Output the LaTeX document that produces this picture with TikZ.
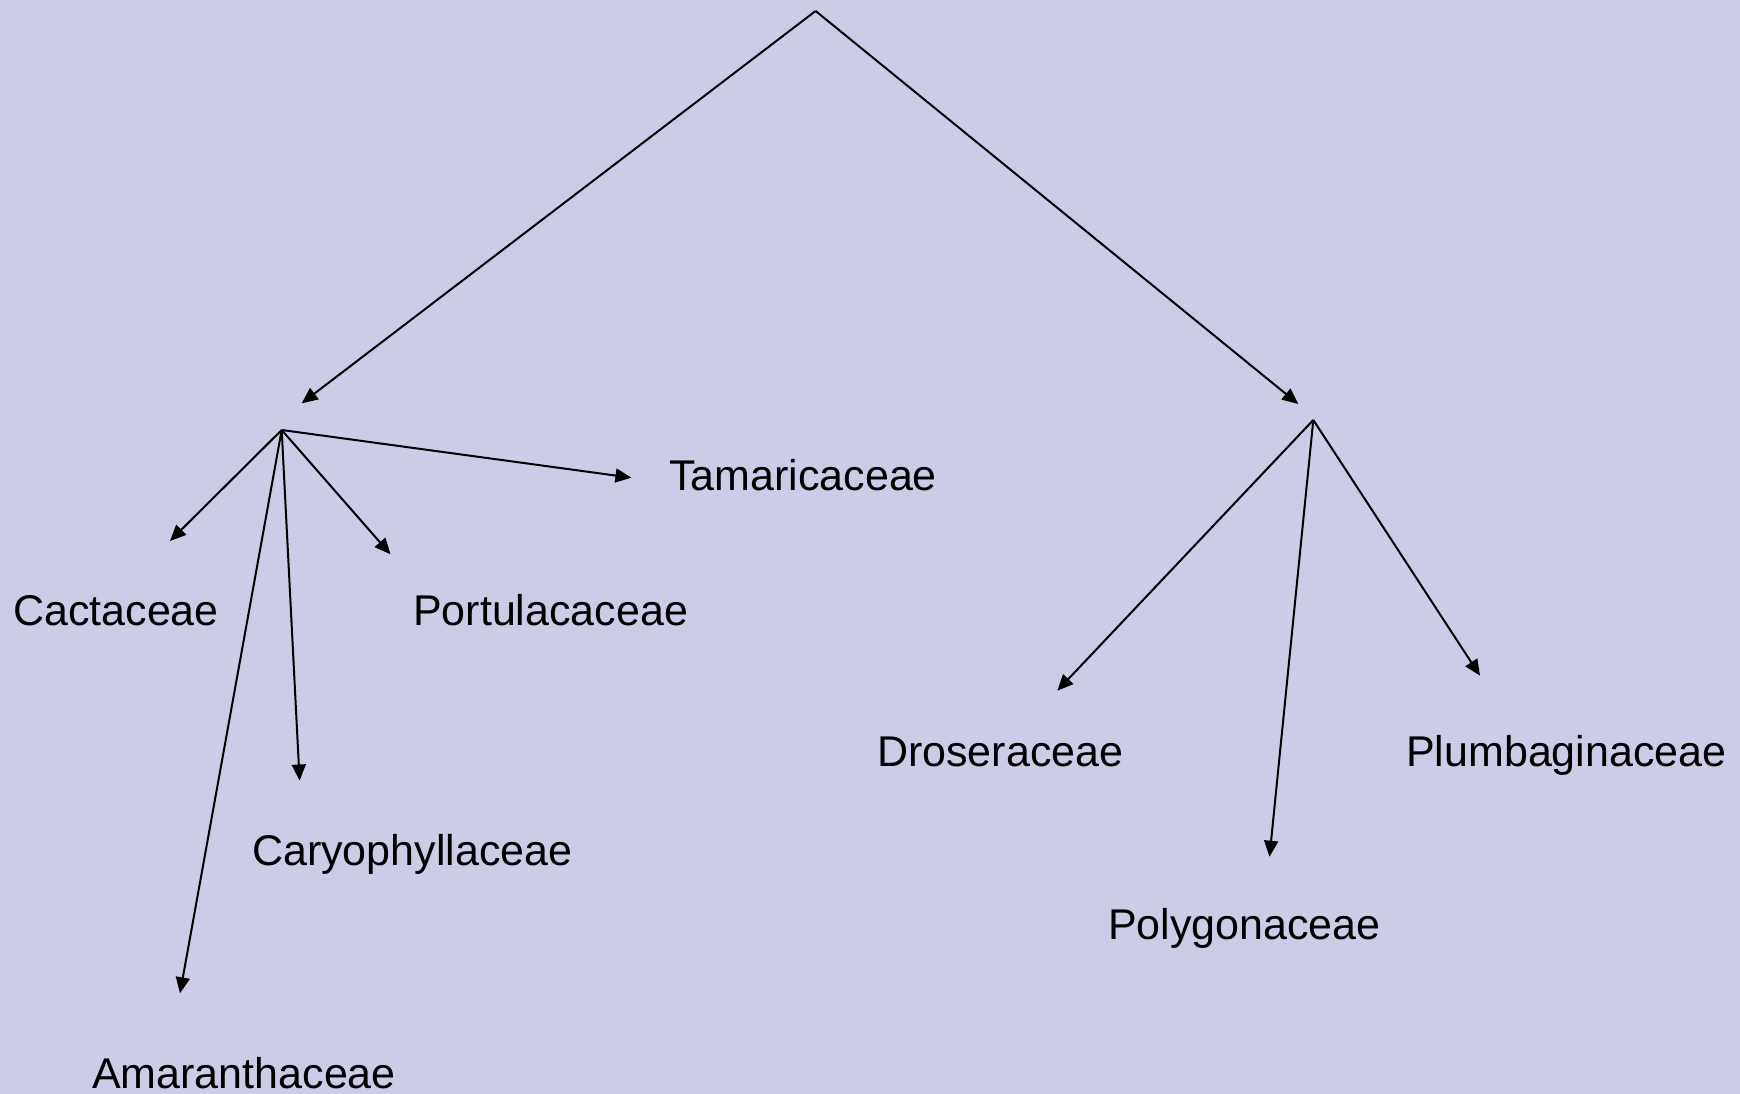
\documentclass[tikz,border=0pt]{standalone}
\usepackage{fontspec}
\setmainfont{Liberation Sans}
\usetikzlibrary{arrows.meta}
\definecolor{bgcol}{RGB}{204,204,230}
\begin{document}
\begin{tikzpicture}[x=1pt,y=-1pt,
  label/.style={anchor=base west,inner sep=0pt,font=\fontsize{43}{50}\selectfont},
  conn/.style={line width=2pt,-{Triangle[length=16pt,width=14pt]}}]
\fill[bgcol] (0,0) rectangle (1740,1094);
\useasboundingbox (0,0) rectangle (1740,1094);
% apex points
\coordinate (root) at (815.6,11);
\coordinate (lsub) at (281.7,430);
\coordinate (rsub) at (1313.3,420);
% arrow ends
\coordinate (ltip) at (301.7,403.3);
\coordinate (rtip) at (1298.3,404);
\coordinate (tTam) at (631.4,477.7);
\coordinate (tCac) at (170,541);
\coordinate (tPor) at (390.5,554.3);
\coordinate (tCar) at (299.6,780.5);
\coordinate (tAma) at (180,993.3);
\coordinate (tDro) at (1057.3,690.7);
\coordinate (tPol) at (1269.5,856.7);
\coordinate (tPlu) at (1480,675.7);
% labels
\node[label] (Tam) at (669,490.7) {Tamaricaceae};
\node[label] (Cac) at (13,625) {Cactaceae};
\node[label] (Por) at (413,625) {Portulacaceae};
\node[label] (Car) at (252,865) {Caryophyllaceae};
\node[label] (Ama) at (92,1088) {Amaranthaceae};
\node[label] (Dro) at (877,766.7) {Droseraceae};
\node[label] (Plu) at (1406,766.7) {Plumbaginaceae};
\node[label] (Pol) at (1108,939.3) {Polygonaceae};
% connectors
\draw[conn] (root) -- (ltip);
\draw[conn] (root) -- (rtip);
\draw[conn] (lsub) -- (tTam);
\draw[conn] (lsub) -- (tCac);
\draw[conn] (lsub) -- (tPor);
\draw[conn] (lsub) -- (tCar);
\draw[conn] (lsub) -- (tAma);
\draw[conn] (rsub) -- (tDro);
\draw[conn] (rsub) -- (tPol);
\draw[conn] (rsub) -- (tPlu);
\end{tikzpicture}
\end{document}
